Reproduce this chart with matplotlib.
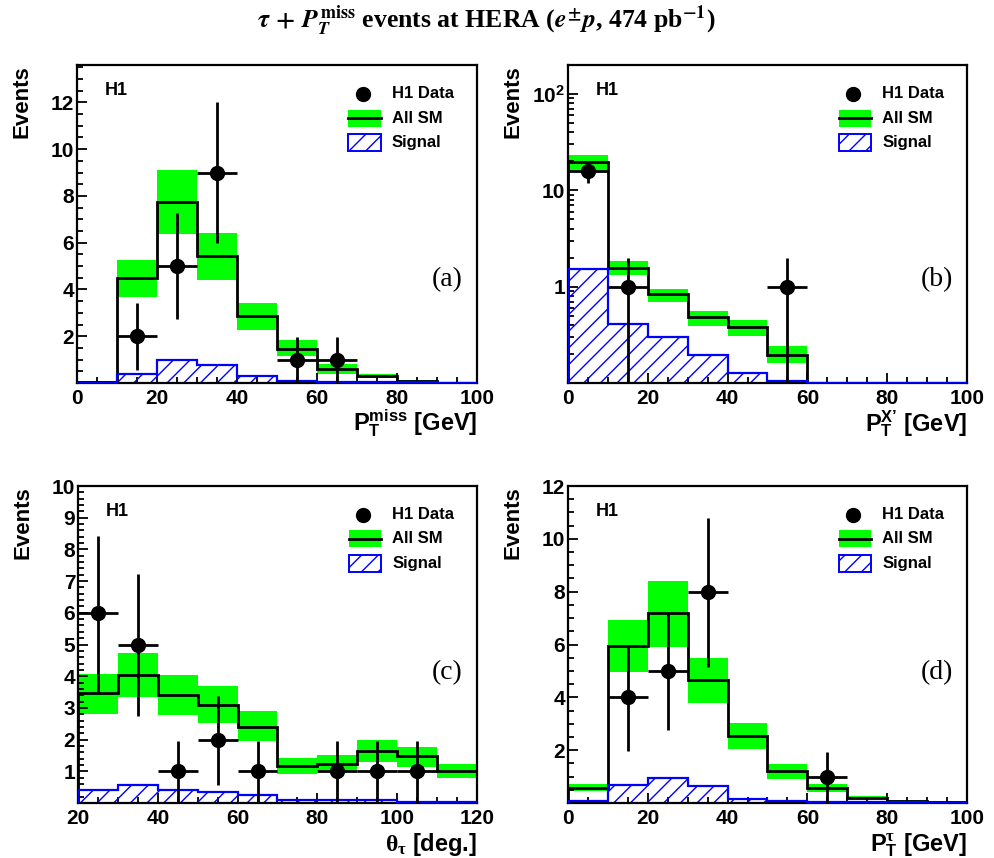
import numpy as np
import matplotlib
matplotlib.use("Agg")
import matplotlib.pyplot as plt
from matplotlib.patches import Rectangle
from matplotlib.lines import Line2D
from matplotlib.ticker import MultipleLocator, FixedLocator, NullFormatter

plt.rcParams['font.family'] = ['Liberation Sans', 'DejaVu Sans']
plt.rcParams['font.weight'] = 'bold'
plt.rcParams['axes.labelweight'] = 'bold'
plt.rcParams['mathtext.fontset'] = 'custom'
plt.rcParams['mathtext.bf'] = 'Liberation Sans:bold'
plt.rcParams['mathtext.rm'] = 'Liberation Sans:bold'
plt.rcParams['mathtext.it'] = 'Liberation Serif'
plt.rcParams['hatch.linewidth'] = 1.0

# ---- (a) missing PT
edges_a = np.arange(0, 101, 10)
mc_a = [0.05, 4.50, 7.72, 5.42, 2.85, 1.47, 0.61, 0.29, 0.09, 0.0]
mc_a_lo = [0.03, 3.68, 6.36, 4.42, 2.28, 1.14, 0.40, 0.22, 0.06, 0.0]
mc_a_hi = [0.07, 5.28, 9.10, 6.42, 3.40, 1.83, 0.80, 0.38, 0.12, 0.0]
sig_a = [0.0, 0.37, 1.00, 0.78, 0.29, 0.07, 0.05, 0.04, 0.03, 0.0]
dat_a_x = [15, 25, 35, 55, 65]
dat_a_y = [2, 5, 9, 1, 1]
dat_a_lo = [0.54, 2.75, 6.0, 0, 0]
dat_a_hi = [3.4, 7.25, 12.0, 1.97, 1.97]

# ---- (b) PT of hadronic system X'
edges_b = np.arange(0, 101, 10)
mc_b = [19.7, 1.56, 0.83, 0.48, 0.385, 0.197, 0, 0, 0, 0]
mc_b_lo = [15.9, 1.31, 0.69, 0.39, 0.31, 0.16, 0, 0, 0, 0]
mc_b_hi = [23.1, 1.83, 0.95, 0.56, 0.45, 0.245, 0, 0, 0, 0]
sig_b = [1.51, 0.41, 0.30, 0.197, 0.127, 0.105, 0, 0, 0, 0]
dat_b_x = [5, 15, 55]
dat_b_y = [16, 1, 1]
dat_b_lo = [12.0, 0, 0]
dat_b_hi = [19.5, 2.0, 2.0]

# ---- (c) tau polar angle
edges_c = np.arange(20, 121, 10)
mc_c = [3.47, 4.03, 3.42, 3.10, 2.40, 1.17, 1.24, 1.64, 1.47, 1.01]
mc_c_lo = [2.82, 3.33, 2.79, 2.53, 1.95, 0.93, 1.00, 1.29, 1.14, 0.79]
mc_c_hi = [4.08, 4.72, 4.03, 3.68, 2.89, 1.42, 1.50, 1.98, 1.77, 1.24]
sig_c = [0.40, 0.56, 0.42, 0.35, 0.26, 0.10, 0.08, 0.08, 0.03, 0.02]
dat_c_x = [25, 35, 45, 55, 65, 85, 95, 105]
dat_c_y = [6, 5, 1, 2, 1, 1, 1, 1]
dat_c_lo = [3.5, 2.74, 0, 0.56, 0, 0, 0, 0]
dat_c_hi = [8.42, 7.21, 1.96, 3.37, 1.96, 1.96, 1.96, 1.96]

# ---- (d) tau PT
edges_d = np.arange(0, 101, 10)
mc_d = [0.58, 5.96, 7.19, 4.66, 2.53, 1.20, 0.58, 0.20, 0.08, 0.03]
mc_d_lo = [0.46, 4.97, 5.92, 3.80, 2.03, 0.92, 0.42, 0.15, 0.06, 0.02]
mc_d_hi = [0.71, 6.91, 8.42, 5.48, 3.01, 1.46, 0.71, 0.26, 0.10, 0.04]
sig_d = [0.08, 0.67, 0.95, 0.63, 0.16, 0.06, 0.04, 0.03, 0.02, 0.0]
dat_d_x = [15, 25, 35, 65]
dat_d_y = [4, 5, 8, 1]
dat_d_lo = [1.97, 2.76, 5.16, 0]
dat_d_hi = [5.96, 7.2, 10.8, 1.94]

GREEN = '#00ff00'
BLUE = '#0000ff'


def panel(ax, edges, mc, lo, hi, sig, dx, dy, dlo, dhi, ylim, log=False):
    edges = np.asarray(edges, float)
    mc, lo, hi, sig = (np.asarray(v, float) for v in (mc, lo, hi, sig))
    dx, dy, dlo, dhi = (np.asarray(v, float) for v in (dx, dy, dlo, dhi))
    width = np.diff(edges)
    centers = edges[:-1] + width / 2
    ymin = ylim[0]
    if log:
        ax.set_yscale('log')
    ok = hi > lo
    ax.bar(centers[ok], (hi - lo)[ok], bottom=lo[ok], width=width[ok],
           color=GREEN, linewidth=0, zorder=1)
    sok = sig > ymin
    ax.bar(centers[sok], (sig - ymin)[sok], bottom=ymin, width=width[sok],
           facecolor='none', edgecolor=BLUE, hatch='//', linewidth=0, zorder=2)
    ax.stairs(np.maximum(mc, ymin), edges, baseline=ymin, color='k', lw=2.0, zorder=3)
    ax.stairs(np.maximum(sig, ymin), edges, baseline=ymin, color=BLUE, lw=1.6, zorder=4)
    ylo = np.maximum(dlo, ymin)
    ax.errorbar(dx, dy, yerr=[dy - ylo, dhi - dy], xerr=5, fmt='o', color='k',
                ms=10, elinewidth=2, capsize=0, zorder=5, clip_on=True)
    ax.set_xlim(edges[0], edges[-1])
    ax.set_ylim(*ylim)
    for s in ax.spines.values():
        s.set_linewidth(1.6)
    ax.tick_params(which='both', direction='in', top=False, right=False,
                   labelsize=15, width=1.3)
    ax.tick_params(axis='x', which='both', pad=4)
    ax.tick_params(axis='y', which='both', pad=2)
    ax.tick_params(which='major', length=7.5)
    ax.tick_params(which='minor', length=4)
    ax.xaxis.set_major_locator(MultipleLocator(20))
    ax.xaxis.set_minor_locator(MultipleLocator(5))
    ax.set_ylabel('Events', fontsize=16, loc='top')
    ax.yaxis.set_label_coords(-0.112, 1.0)

    # decorations
    ax.text(0.07, 0.921, 'H1', transform=ax.transAxes, fontsize=13,
            va='center', ha='left')
    ax.plot([0.715], [0.909], 'o', color='k', ms=10, transform=ax.transAxes,
            clip_on=False)
    ax.add_patch(Rectangle((0.678, 0.806), 0.082, 0.054, transform=ax.transAxes,
                           color=GREEN, lw=0))
    ax.add_line(Line2D([0.678, 0.760], [0.833, 0.833], transform=ax.transAxes,
                       color='k', lw=2.0))
    ax.add_patch(Rectangle((0.678, 0.728), 0.082, 0.054, transform=ax.transAxes,
                           facecolor='white', edgecolor=BLUE, hatch='//', lw=1.4))
    for yy, lab in zip([0.909, 0.833, 0.755], ['H1 Data', 'All SM', 'Signal']):
        ax.text(0.7875, yy, lab, transform=ax.transAxes, fontsize=12,
                va='center', ha='left')


fig = plt.figure(figsize=(9.95, 8.58), dpi=100)
W, H = 995, 858


def add_axes(l, t, r, b):
    return fig.add_axes([l / W, 1 - b / H, (r - l) / W, (b - t) / H])


ax_a = add_axes(77, 65, 477, 383)
ax_b = add_axes(568, 65, 967, 383)
ax_c = add_axes(78, 486, 477, 803)
ax_d = add_axes(568, 486, 967, 803)

panel(ax_a, edges_a, mc_a, mc_a_lo, mc_a_hi, sig_a,
      dat_a_x, dat_a_y, dat_a_lo, dat_a_hi, (0, 13.6))
panel(ax_b, edges_b, mc_b, mc_b_lo, mc_b_hi, sig_b,
      dat_b_x, dat_b_y, dat_b_lo, dat_b_hi, (0.1, 200), log=True)
panel(ax_c, edges_c, mc_c, mc_c_lo, mc_c_hi, sig_c,
      dat_c_x, dat_c_y, dat_c_lo, dat_c_hi, (0, 10))
panel(ax_d, edges_d, mc_d, mc_d_lo, mc_d_hi, sig_d,
      dat_d_x, dat_d_y, dat_d_lo, dat_d_hi, (0, 12))

ax_a.yaxis.set_major_locator(FixedLocator([2, 4, 6, 8, 10, 12]))
ax_a.yaxis.set_minor_locator(MultipleLocator(0.5))
ax_d.yaxis.set_major_locator(FixedLocator([2, 4, 6, 8, 10, 12]))
ax_d.yaxis.set_minor_locator(MultipleLocator(0.5))
ax_c.yaxis.set_major_locator(FixedLocator(list(range(1, 11))))
ax_c.yaxis.set_minor_locator(MultipleLocator(0.2))
ax_b.yaxis.set_major_locator(FixedLocator([1, 10, 100]))
ax_b.set_yticklabels(['1', '10', r'10$^{\mathbf{2}}$'])
ax_b.yaxis.set_minor_formatter(NullFormatter())

xlabels = [(ax_a, r'P$_{\mathbf{T}}^{\mathbf{miss}}$ [GeV]'),
           (ax_b, 'P$_{\\mathbf{T}}^{\\mathbf{X\u2019}}$ [GeV]'),
           (ax_c, r'$\theta_{\tau}$ [deg.]'),
           (ax_d, r'P$_{\mathbf{T}}^{\tau}$ [GeV]')]
for ax, lab in xlabels:
    ax.set_xlabel(lab, fontsize=17, loc='right')
    ax.xaxis.set_label_coords(1.0, -0.152)
    ax.xaxis.label.set_va('baseline')

for ax, lab, yy in [(ax_a, '(a)', 0.324), (ax_b, '(b)', 0.324),
                    (ax_c, '(c)', 0.41), (ax_d, '(d)', 0.41)]:
    ax.text(0.925, yy, lab, transform=ax.transAxes, fontsize=20,
            fontfamily='Liberation Serif', fontweight='normal',
            ha='center', va='center')

fig.text(0.489, 0.976,
         r'$\tau\,+\,P_T^{\rm miss}$ events at HERA ($e^{\pm}p$, 474 pb$^{-1}$)',
         ha='center', va='center', fontsize=18.5, fontfamily='Liberation Serif',
         fontweight='bold', math_fontfamily='stix')

fig.savefig('out.png', dpi=100)
